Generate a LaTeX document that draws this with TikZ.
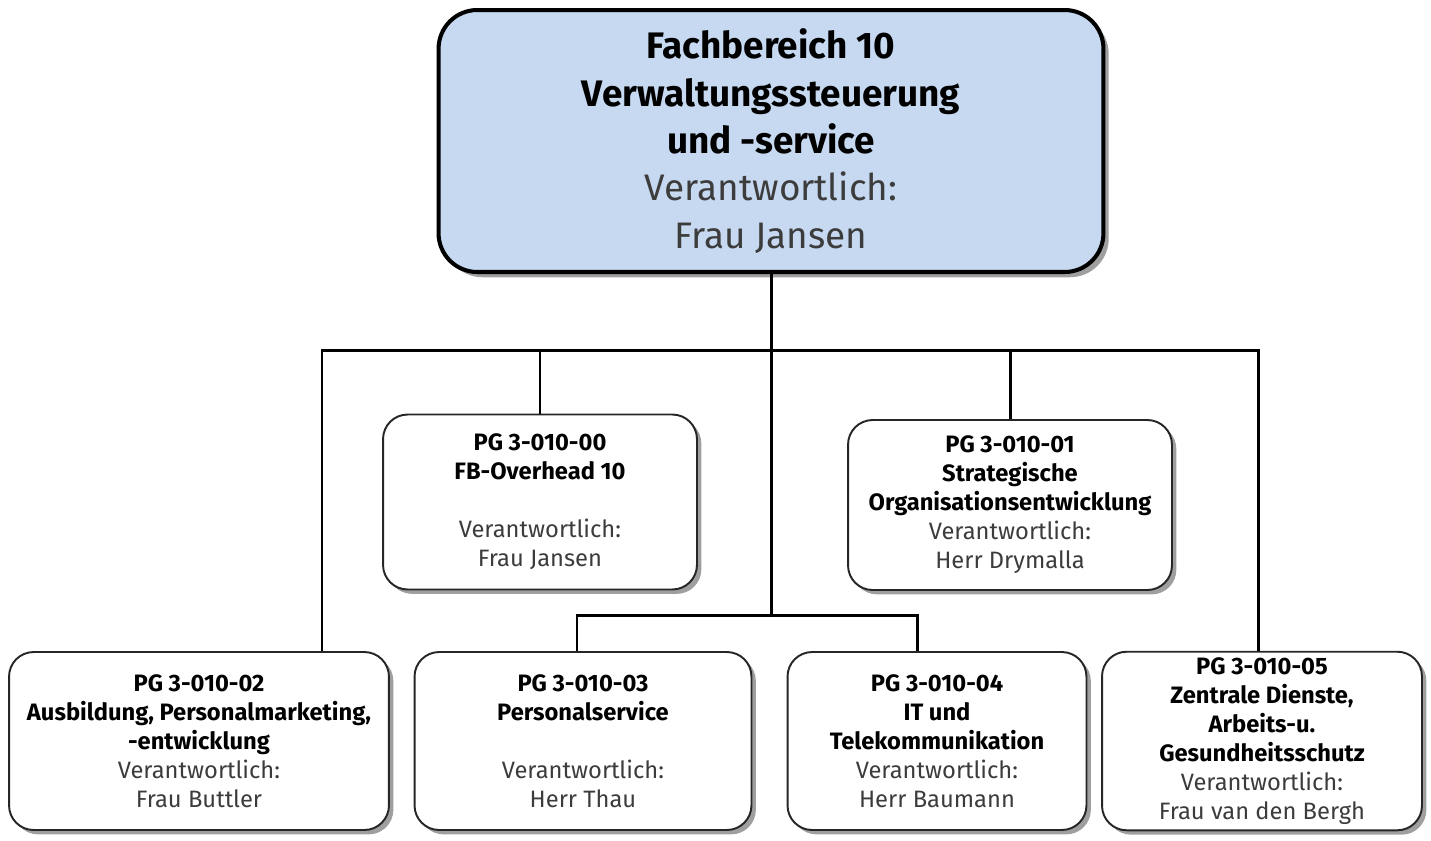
\documentclass[tikz,border=0pt]{standalone}
\usepackage{fontspec}
\setmainfont{Fira Sans}
\usetikzlibrary{positioning, shadows}
\definecolor{fbblue}{RGB}{198,217,240}
\definecolor{respgray}{RGB}{60,60,60}
\newcommand{\verantw}[1]{\textcolor{respgray}{Verantwortlich:}\\ \textcolor{respgray}{#1}}

\begin{document}
\begin{tikzpicture}[
        x=0.02cm, y=-0.02cm,
        head/.style={rectangle, draw=black, line width=2.3pt, fill=fbblue, rounded corners=22pt, align=center, minimum width=13.3cm, minimum height=5.24cm, font=\fontsize{21}{27}\selectfont, drop shadow={shadow xshift=3pt, shadow yshift=-3pt, fill=black!75}},
        pg/.style={rectangle, draw=black!85, line width=1.1pt, fill=white, rounded corners=14pt, align=center, minimum height=3.56cm, font=\fontsize{13.5}{16.5}\selectfont, drop shadow={shadow xshift=2.5pt, shadow yshift=-2.5pt, fill=black!75}},
        link/.style={line width=1.7pt}
    ]
    \useasboundingbox (0,0) rectangle (1431,840);

    % Fachbereich
    \node [head] (fb) at (771,141) {\textbf{Fachbereich 10}\\ \textbf{Verwaltungssteuerung}\\ \textbf{und -service}\\ \verantw{Frau Jansen}};

    % upper row
    \node [pg, minimum width=6.28cm, minimum height=3.5cm] (pg00) at (540,502) {\textbf{PG 3-010-00}\\ \textbf{FB-Overhead 10}\\[16.5pt] \verantw{Frau Jansen}};
    \node [pg, minimum width=6.48cm, minimum height=3.4cm] (pg01) at (1010,505) {\textbf{PG 3-010-01}\\ \textbf{Strategische}\\ \textbf{Organisationsentwicklung}\\ \verantw{Herr Drymalla}};

    % lower row
    \node [pg, minimum width=7.6cm] (pg02) at (199,741) {\textbf{PG 3-010-02}\\ \textbf{Ausbildung, Personalmarketing,}\\ \textbf{-entwicklung}\\ \verantw{Frau Buttler}};
    \node [pg, minimum width=6.74cm] (pg03) at (583,741) {\textbf{PG 3-010-03}\\ \textbf{Personalservice}\\[16.5pt] \verantw{Herr Thau}};
    \node [pg, minimum width=5.98cm] (pg04) at (937,741) {\textbf{PG 3-010-04}\\ \textbf{IT und}\\ \textbf{Telekommunikation}\\ \verantw{Herr Baumann}};
    \node [pg, minimum width=6.4cm] (pg05) at (1262,741) {\textbf{PG 3-010-05}\\ \textbf{Zentrale Dienste,}\\ \textbf{Arbeits-u.}\\ \textbf{Gesundheitsschutz}\\ \verantw{Frau van den Bergh}};

    % Connecting Lines
    \coordinate (busL) at (322,350);
    \coordinate (busR) at (1258,350);
    \coordinate (subL) at (577,615);
    \coordinate (subR) at (917,615);
    \draw [link] (fb.south) -- (fb.south |- subL);
    \draw [link] (busL |- pg02.north) -- (busL) -- (busR) -- (busR |- pg05.north);
    \draw [link] (pg00.north) -- (pg00.north |- busL);
    \draw [link] (pg01.north) -- (pg01.north |- busL);
    \draw [link] (subL |- pg03.north) -- (subL) -- (subR) -- (subR |- pg04.north);

\end{tikzpicture}
\end{document}
